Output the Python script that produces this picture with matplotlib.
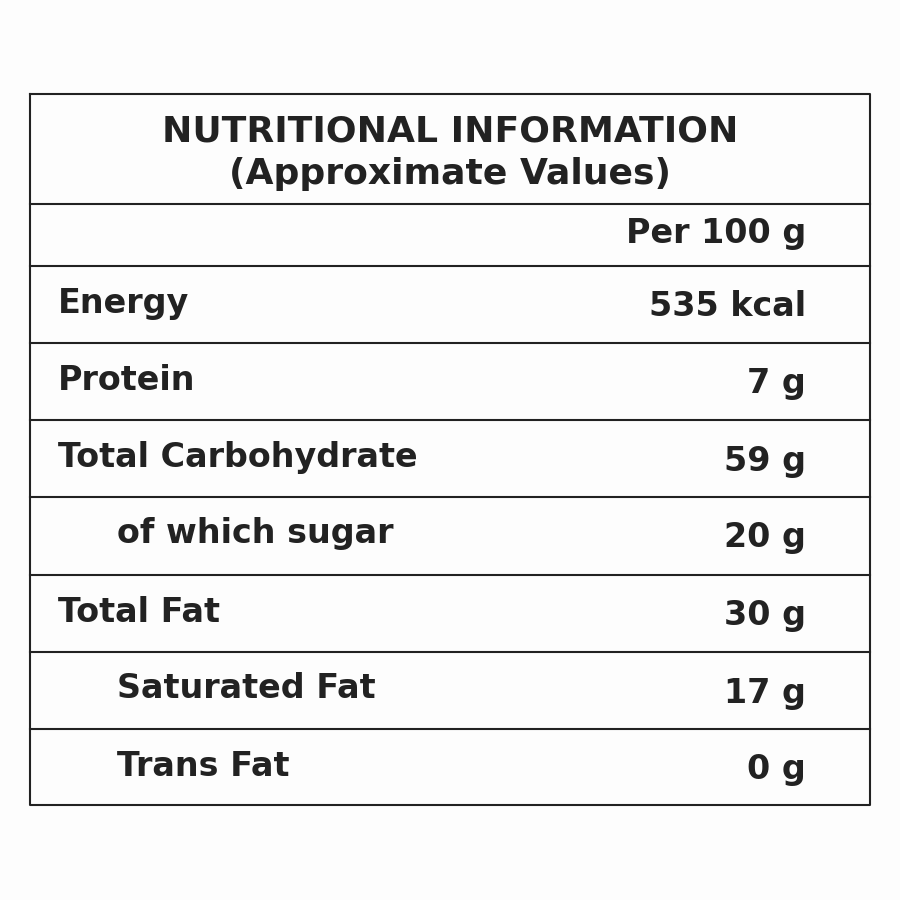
import matplotlib
matplotlib.use("Agg")
import matplotlib.pyplot as plt

TITLE = ["NUTRITIONAL INFORMATION", "(Approximate Values)"]
HEADER = "Per 100 g"
NUTRIENTS = ["Energy", "Protein", "Total Carbohydrate", "of which sugar",
             "Total Fat", "Saturated Fat", "Trans Fat"]
VALUES = ["535 kcal", "7 g", "59 g", "20 g", "30 g", "17 g", "0 g"]
INDENTED = [False, False, False, True, False, True, True]

# row boundaries in pixels (top of image = 0)
ROW_LINES = [94, 204, 266, 343, 420, 497, 575, 652, 729, 805]

plt.rcParams["font.family"] = ["DejaVu Sans"]
fig = plt.figure(figsize=(9, 9), dpi=100, facecolor="#fdfdfd")
ax = fig.add_axes([0, 0, 1, 1])
ax.set_xlim(0, 900); ax.set_ylim(900, 0); ax.axis("off")

ax.plot([30, 870, 870, 30, 30], [94, 94, 805, 805, 94], color="#222", lw=1.5)
for y in ROW_LINES[1:-1]:
    ax.plot([30, 870], [y, y], color="#222", lw=1.5)

ax.text(450, 131, TITLE[0], ha="center", va="center", fontsize=26, weight="bold", color="#222")
ax.text(450, 174, TITLE[1], ha="center", va="center", fontsize=26, weight="bold", color="#222")
ax.text(806, 233, HEADER, ha="right", va="center", fontsize=24, weight="bold", color="#222")

for i, (name, val) in enumerate(zip(NUTRIENTS, VALUES)):
    top = ROW_LINES[i + 2]
    x = 117 if INDENTED[i] else 58
    ax.text(x, top + 37, name, ha="left", va="center", fontsize=24, weight="bold", color="#222")
    ax.text(806, top + 41, val, ha="right", va="center", fontsize=24, weight="bold", color="#222")

fig.savefig("out.png", dpi=100, facecolor=fig.get_facecolor())
